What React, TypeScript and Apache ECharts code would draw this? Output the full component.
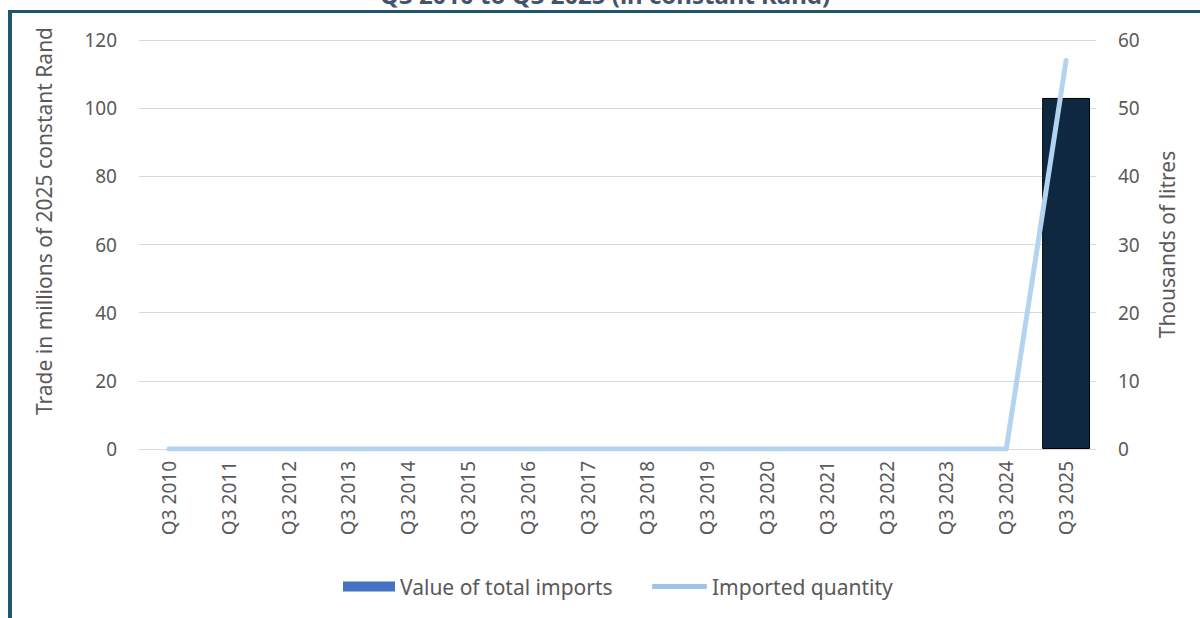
import React, { useEffect, useRef } from "react";
import * as echarts from "echarts";

const categories = [
  "Q3 2010", "Q3 2011", "Q3 2012", "Q3 2013", "Q3 2014", "Q3 2015", "Q3 2016", "Q3 2017",
  "Q3 2018", "Q3 2019", "Q3 2020", "Q3 2021", "Q3 2022", "Q3 2023", "Q3 2024", "Q3 2025",
];
const importValue = [0, 0, 0, 0, 0, 0, 0, 0, 0, 0, 0, 0, 0, 0, 0, 103];
const importQuantity = [0, 0, 0, 0, 0, 0, 0, 0, 0, 0, 0, 0, 0, 0, 0, 57];
const leftTicks = { min: 0, max: 120, interval: 20 };
const rightTicks = { min: 0, max: 60, interval: 10 };
const titleText = "Q3 2010 to Q3 2025 (in constant Rand)";
const leftName = "Trade in millions of 2025 constant Rand";
const rightName = "Thousands of litres";
const seriesNames = ["Value of total imports", "Imported quantity"];

const FONT = "Noto Sans";
const TXT = "#595959";

export default function App() {
  const ref = useRef<HTMLDivElement>(null);
  useEffect(() => {
    document.body.style.margin = "0";
    const chart = echarts.init(ref.current!, null, { renderer: "svg" });
    chart.setOption({
      animation: false,
      backgroundColor: "#ffffff",
      textStyle: { fontFamily: FONT },
      grid: { left: 139, right: 104, top: 40, bottom: 169 },
      graphic: [
        { type: "rect", shape: { x: 8, y: 10, width: 1192, height: 3 }, style: { fill: "#1F5570" }, silent: true },
        { type: "rect", shape: { x: 8, y: 10, width: 4, height: 608 }, style: { fill: "#1F5570" }, silent: true },
        {
          type: "text",
          x: 605,
          y: -6,
          style: {
            text: titleText,
            fill: "#44546A",
            font: `bold 24px ${FONT}`,
            textAlign: "center",
            textVerticalAlign: "middle",
          },
          silent: true,
        },
        {
          type: "text",
          x: 44,
          y: 221,
          rotation: Math.PI / 2,
          style: {
            text: leftName,
            fill: TXT,
            font: `21px ${FONT}`,
            textAlign: "center",
            textVerticalAlign: "middle",
          },
          silent: true,
        },
      ],
      legend: [
        {
          left: 338,
          top: 571,
          itemWidth: 52,
          itemHeight: 10,
          icon: "rect",
          textStyle: { color: TXT, fontSize: 21, fontFamily: FONT },
          data: [{ name: seriesNames[0], itemStyle: { color: "#4472C4", borderWidth: 0 } }],
        },
        {
          left: 647,
          top: 571,
          itemWidth: 55,
          itemHeight: 5,
          icon: "roundRect",
          textStyle: { color: TXT, fontSize: 21, fontFamily: FONT },
          data: [{ name: seriesNames[1], itemStyle: { color: "#9DC3E6" } }],
        },
      ],
      xAxis: {
        type: "category",
        data: categories,
        axisTick: { show: false },
        axisLine: { lineStyle: { color: "#D9D9D9", width: 1 } },
        axisLabel: { rotate: 90, color: TXT, fontSize: 19, margin: 12, fontFamily: FONT },
      },
      yAxis: [
        {
          type: "value",
          ...leftTicks,
          axisLabel: { color: TXT, fontSize: 19, margin: 22, fontFamily: FONT },
          splitLine: { lineStyle: { color: "#D9D9D9", width: 1 } },
          axisLine: { show: false },
          axisTick: { show: false },
        },
        {
          type: "value",
          ...rightTicks,
          position: "right",
          name: rightName,
          nameLocation: "middle",
          nameGap: 60,
          nameTextStyle: { color: TXT, fontSize: 21, fontFamily: FONT },
          axisLabel: { color: TXT, fontSize: 19, margin: 22, fontFamily: FONT },
          splitLine: { show: false },
          axisLine: { show: false },
          axisTick: { show: false },
        },
      ],
      series: [
        {
          name: seriesNames[0],
          type: "bar",
          yAxisIndex: 0,
          data: importValue.map((v) => ({ value: v, itemStyle: v === 0 ? { borderWidth: 0 } : {} })),
          barCategoryGap: "20%",
          itemStyle: { color: "#0E2841", borderColor: "#000000", borderWidth: 1 },
        },
        {
          name: seriesNames[1],
          type: "line",
          yAxisIndex: 1,
          data: importQuantity,
          showSymbol: false,
          symbol: "none",
          lineStyle: { color: "#B4D3EF", width: 5, cap: "round", join: "round" },
          itemStyle: { color: "#9DC3E6" },
        },
      ],
    });
    return () => chart.dispose();
  }, []);
  return <div ref={ref} style={{ width: 1200, height: 618 }} />;
}
